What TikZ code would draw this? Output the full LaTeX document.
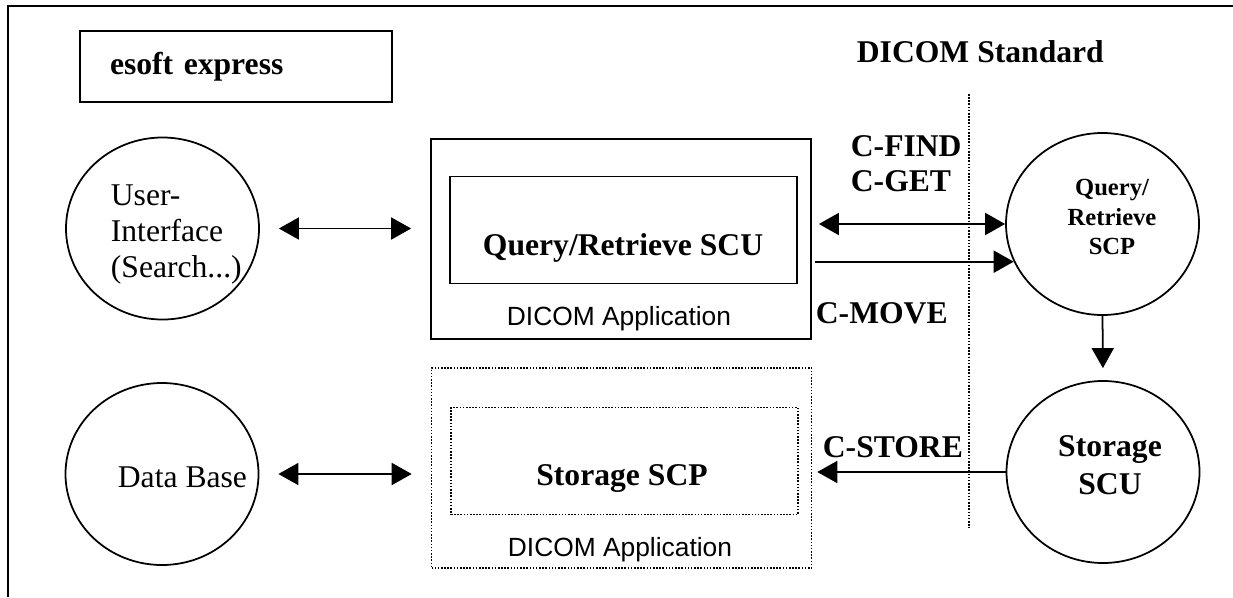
\documentclass[tikz,border=0pt]{standalone}
\usepackage{fontspec}
\setmainfont{Liberation Serif}
\setsansfont{Liberation Sans}
\usetikzlibrary{arrows.meta,shapes.geometric,calc}

\begin{document}
\begin{tikzpicture}[line width=1pt,every node/.style={inner sep=0pt},
  proc/.style={draw,ellipse,minimum width=3.86cm,minimum height=3.64cm},
  appbox/.style={draw,minimum width=7.6cm,minimum height=4cm},
  svcbox/.style={draw,minimum width=6.94cm,minimum height=2.14cm},
  dotline/.style={line width=0.9pt,dash pattern=on 0.9pt off 0.9pt},
  big/.style={font=\fontsize{18}{20}\selectfont\bfseries},
  txt/.style={font=\fontsize{18}{20.5}\selectfont,align=left},
  apptxt/.style={font=\sffamily\fontsize{15}{17}\selectfont,anchor=base},
  flow/.style={-{Triangle[length=0.4cm,width=0.44cm]}},
  twoway/.style={{Triangle[length=0.4cm,width=0.44cm]}-{Triangle[length=0.4cm,width=0.44cm]}}]
\useasboundingbox (0,0) rectangle (24.66,11.94);
% frame
\draw[line width=1.2pt] (0.16,0) -- (0.16,11.82) -- (24.66,11.82);
\node[draw,big,text width=5.04cm,inner xsep=0.6cm,minimum height=1.42cm,align=left] (esoft) at (4.72,10.61) {esoft express};
\node[big,anchor=base west] (std) at (17.12,10.68) {DICOM Standard};
\draw[dotline] (19.38,10.06) -- (19.38,1.38);

% local side
\node[proc] (ui) at (3.25,7.37) {};
\node[txt,anchor=north west] (uitxt) at (2.2,8.26) {User-\\Interface\\(Search...)};
\node[proc] (db) at (3.24,2.46) {};
\node[txt,anchor=base west] (dbtxt) at (2.34,2.20) {Data Base};

\node[appbox] (qrapp) at (12.42,7.16) {};
\node[svcbox] (qrscu) at (12.47,7.34) {};
\node[big,anchor=base] (qrscutxt) at (12.46,6.84) {Query/Retrieve SCU};
\node[apptxt] (qrapptxt) at (12.38,5.44) {DICOM Application};

\node[appbox,dotline] (stapp) at (12.43,2.58) {};
\node[svcbox,dotline] (stscp) at (12.49,2.72) {};
\node[big,anchor=base] (stscptxt) at (12.44,2.24) {Storage SCP};
\node[apptxt] (stapptxt) at (12.4,0.82) {DICOM Application};

% remote side
\node[proc] (qrscp) at (22.05,7.46) {};
\node[font=\fontsize{14}{17}\selectfont\bfseries,align=center] (qrscptxt) at (22.24,7.60) {Query/\\Retrieve\\SCP};
\node[proc] (stscu) at (22.06,2.50) {};
\node[font=\fontsize{18}{21.5}\selectfont\bfseries,align=center] (stscutxt) at (22.20,2.64) {Storage\\SCU};

\node[big,align=left,anchor=north west] (findget) at (17.0,9.24) {C-FIND\\C-GET};
\node[big,anchor=base west] (move) at (16.30,5.48) {C-MOVE};
\node[big,anchor=base west] (store) at (16.44,2.80) {C-STORE};

% messages
\draw[twoway,shorten <=0.38cm,shorten >=0.38cm] (ui.east) -- (ui.east -| qrapp.west);
\draw[twoway,shorten <=0.38cm,shorten >=0.38cm] (db.east) -- (db.east -| stapp.west);
\draw[twoway,shorten <=0.14cm] (qrscp.west -| qrapp.east) -- (qrscp.west);
\draw[flow,shorten <=0.06cm] (qrscp.203 -| qrapp.east) -- (qrscp.203);
\draw[flow,shorten >=0.24cm] (qrscp.south) -- (stscu.north);
\draw[flow,shorten >=0.1cm] (stscu.west) -- (stscu.west -| stapp.east);
\end{tikzpicture}
\end{document}
